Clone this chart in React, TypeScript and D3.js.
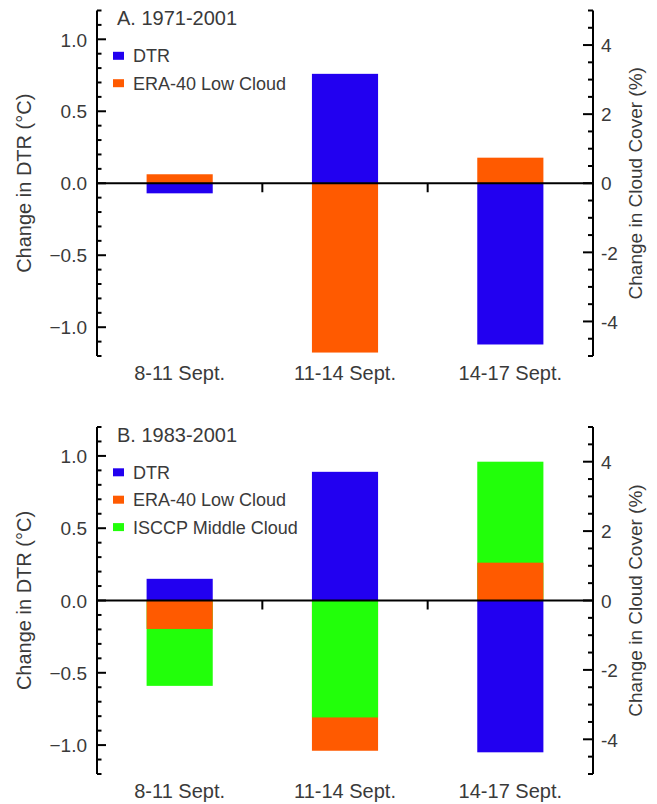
import React from "react";
import * as d3 from "d3";

// periods on the x axis
const categories = ["8-11 Sept.", "11-14 Sept.", "14-17 Sept."];

// panel A, 1971-2001
const dtrA = [-0.07, 0.76, -1.12]; // °C, left axis
const eraLowA = [0.26, -4.9, 0.74]; // %, right axis

// panel B, 1983-2001
const dtrB = [0.15, 0.89, -1.05];
const eraLowB = [-0.82, -4.33, 1.09];
const isccpMidB = [-2.46, -3.37, 4.0];

const leftTicks = d3.range(-12, 13).map((d) => d / 10);
const leftLabels = [-1.0, -0.5, 0.0, 0.5, 1.0];
const rightTicks = d3.range(-10, 11).map((d) => d / 2);
const rightLabels = [-4, -2, 0, 2, 4];

const BLUE = "#2200f0";
const ORANGE = "#ff5a00";
const GREEN = "#22ff0a";
const INK = "#3a3a3a";
const FONT = "'Liberation Sans', Arial, Helvetica, sans-serif";

const X0 = 97;
const X1 = 593;

type Series = { name: string; color: string; values: number[]; axis: "left" | "right" };

const Panel = ({ top, bottom, title, series }: { top: number; bottom: number; title: string; series: Series[] }) => {
  const x = d3.scaleBand().domain(categories).range([X0, X1]).paddingInner(0.6).paddingOuter(0.3);
  const yL = d3.scaleLinear().domain([-1.2, 1.2]).range([bottom, top]);
  const yR = d3.scaleLinear().domain([-5, 5]).range([bottom, top]);

  // bars all start at zero; longest drawn first so the shorter ones sit on top
  const bars: { key: string; cat: string; y: number; color: string }[] = [];
  categories.forEach((cat, i) => {
    const items = series.map((s) => {
      const sc = s.axis === "left" ? yL : yR;
      return { key: s.name + i, cat, y: sc(s.values[i]), len: Math.abs(sc(s.values[i]) - sc(0)), color: s.color };
    });
    items.sort((a, b) => b.len - a.len);
    items.forEach((it) => bars.push({ key: it.key, cat, y: it.y, color: it.color }));
  });

  const zero = yL(0);
  const boundaries = d3.range(1, categories.length).map((i) => X0 + (i * (X1 - X0)) / categories.length);

  return (
    <g>
      {bars.map((b) => (
        <rect
          key={b.key}
          x={x(b.cat)}
          width={x.bandwidth()}
          y={Math.min(zero, b.y)}
          height={Math.abs(b.y - zero)}
          fill={b.color}
        />
      ))}

      {/* zero line + separators between periods */}
      <line x1={X0} x2={X1} y1={zero} y2={zero} stroke="#000" strokeWidth={2} />
      {boundaries.map((bx) => (
        <line key={bx} x1={bx} x2={bx} y1={zero} y2={zero + 9} stroke="#000" strokeWidth={2} />
      ))}

      {/* left axis */}
      <line x1={X0} x2={X0} y1={top} y2={bottom} stroke="#000" strokeWidth={2} />
      {leftTicks.map((t) => {
        const major = leftLabels.some((l) => Math.abs(l - t) < 1e-6);
        return <line key={"lt" + t} x1={X0} x2={X0 + (major ? 9 : 4.5)} y1={yL(t)} y2={yL(t)} stroke="#000" strokeWidth={2} />;
      })}
      {leftLabels.map((t) => (
        <text key={"ll" + t} x={87} y={yL(t)} dy="0.38em" textAnchor="end" fontSize={19} fill={INK}>
          {d3.format(".1f")(t)}
        </text>
      ))}

      {/* right axis */}
      <line x1={X1} x2={X1} y1={top} y2={bottom} stroke="#000" strokeWidth={2} />
      {rightTicks.map((t) => {
        const major = rightLabels.includes(t);
        return <line key={"rt" + t} x1={X1} x2={X1 - (major ? 10 : 5)} y1={yR(t)} y2={yR(t)} stroke="#000" strokeWidth={2} />;
      })}
      {rightLabels.map((t) => (
        <text key={"rl" + t} x={601} y={yR(t)} dy="0.38em" textAnchor="start" fontSize={19} fill={INK}>
          {t}
        </text>
      ))}

      {/* category labels */}
      {categories.map((c) => (
        <text key={c} x={(x(c) ?? 0) + x.bandwidth() / 2} y={bottom + 24} textAnchor="middle" fontSize={20} fill={INK}>
          {c}
        </text>
      ))}

      {/* axis titles */}
      <text transform={`translate(31,${(top + bottom) / 2}) rotate(-90)`} textAnchor="middle" fontSize={20} fill={INK}>
        Change in DTR (°C)
      </text>
      <text transform={`translate(642,${(top + bottom) / 2}) rotate(-90)`} textAnchor="middle" fontSize={19} fill={INK}>
        Change in Cloud Cover (%)
      </text>

      {/* title + legend */}
      <text x={117} y={top + 14.5} fontSize={20} fill={INK}>
        {title}
      </text>
      {series.map((s, i) => (
        <g key={s.name} transform={`translate(0,${top + 45.3 + i * 27.4})`}>
          <rect x={113} y={-4} width={11} height={8} fill={s.color} />
          <text x={133} y={0} dy="0.36em" fontSize={18} fill={INK}>
            {s.name}
          </text>
        </g>
      ))}
    </g>
  );
};

export default function App() {
  const seriesA: Series[] = [
    { name: "DTR", color: BLUE, values: dtrA, axis: "left" },
    { name: "ERA-40 Low Cloud", color: ORANGE, values: eraLowA, axis: "right" },
  ];
  const seriesB: Series[] = [
    { name: "DTR", color: BLUE, values: dtrB, axis: "left" },
    { name: "ERA-40 Low Cloud", color: ORANGE, values: eraLowB, axis: "right" },
    { name: "ISCCP Middle Cloud", color: GREEN, values: isccpMidB, axis: "right" },
  ];
  return (
    <svg width={657} height={804} style={{ position: "absolute", left: 0, top: 0 }} fontFamily={FONT}>
      <rect width={657} height={804} fill="#fff" />
      <Panel top={10.5} bottom={356} title="A. 1971-2001" series={seriesA} />
      <Panel top={427} bottom={774} title="B. 1983-2001" series={seriesB} />
    </svg>
  );
}
